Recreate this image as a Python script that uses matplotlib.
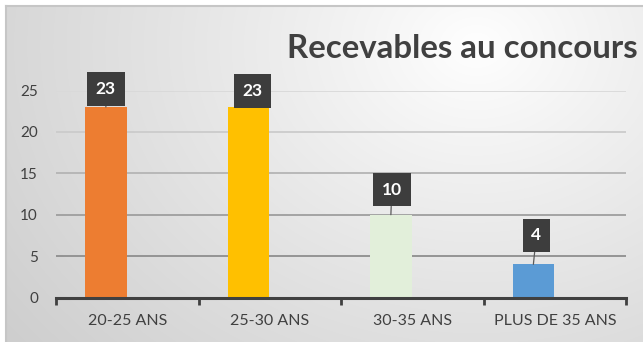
import numpy as np
import matplotlib
matplotlib.use("Agg")
import matplotlib.pyplot as plt

# --- data -------------------------------------------------------------
categories = ["20-25 ANS", "25-30 ANS", "30-35 ANS", "PLUS DE 35 ANS"]
values = [23, 23, 10, 4]
bar_colors = ["#ED7D31", "#FFC000", "#E2EFDA", "#5B9BD5"]
y_ticks = [0, 5, 10, 15, 20, 25]
title = "Recevables au concours"

# label box offsets from the bar top (pixels)
label_offsets = [(0, 18), (4, 16), (1, 25), (3, 29)]

plt.rcParams["font.family"] = ["Lato", "DejaVu Sans"]
W, H, DPI = 643, 342, 100
fig = plt.figure(figsize=(W / DPI, H / DPI), dpi=DPI, facecolor="white")

# --- chart area background with a soft radial gradient ----------------
x0, y0 = 6, 6
bg = fig.add_axes([x0 / W, 0, 1 - x0 / W, 1 - y0 / H], zorder=0)
gx, gy = np.meshgrid(np.arange(W - x0), np.arange(H - y0))
r = np.sqrt((gx - 470) ** 2 + ((gy - 40) * 1.25) ** 2) / 520
val = 1.0 - 0.17 * np.clip(r, 0, 1.2) ** 0.9
bg.imshow(np.dstack([val, val, val]), aspect="auto", interpolation="bilinear",
          extent=(0, 1, 0, 1), origin="upper")
bg.set_xlim(0, 1)
bg.set_ylim(0, 1)
bg.axis("off")
fig.add_artist(plt.Line2D([x0 / W, x0 / W], [0, 1 - y0 / H], color="#c6c6c6", lw=1.5))
fig.add_artist(plt.Line2D([x0 / W, 1], [1 - y0 / H, 1 - y0 / H], color="#c6c6c6", lw=1.5))

# --- plot area --------------------------------------------------------
left, right, base, top = 56, 626, 297.5, 90.5
ax = fig.add_axes([left / W, 1 - base / H, (right - left) / W, (base - top) / H], zorder=2)
ax.patch.set_alpha(0)

x = np.arange(len(categories))
bar_offset, bar_width = -0.15, 0.29
bars = ax.bar(x + bar_offset, values, width=bar_width, color=bar_colors, zorder=3)

ax.set_xlim(-0.5, len(categories) - 0.5)
ax.set_ylim(0, 25)
ax.set_yticks(y_ticks)
ax.set_xticks(x)
ax.set_xticklabels(categories)
ax.set_xticks(np.arange(-0.5, len(categories)), minor=True)

grid_colors = ["#404040", "#8e8e8e", "#9e9e9e", "#b4b4b4", "#cbcbcb", "#d9d9d9"]
for yv, c in zip(y_ticks[1:], grid_colors[1:]):
    ax.axhline(yv, color=c, lw=1.3, zorder=1)

for s in ["top", "right", "left"]:
    ax.spines[s].set_visible(False)
ax.spines["bottom"].set_color("#404040")
ax.spines["bottom"].set_linewidth(2.2)
ax.spines["bottom"].set_zorder(4)

ax.tick_params(axis="y", length=0, pad=13, labelsize=11, labelcolor="#404040")
ax.tick_params(axis="x", which="major", length=0, pad=12, labelsize=11.5, labelcolor="#404040")
ax.tick_params(axis="x", which="minor", length=5, width=2, color="#404040", direction="out")

# --- data labels ------------------------------------------------------
for rect, v, (dx, dy) in zip(bars, values, label_offsets):
    cx = rect.get_x() + rect.get_width() / 2
    ax.annotate(
        str(v), xy=(cx, v), xytext=(dx, dy), textcoords="offset pixels",
        ha="center", va="center", color="white", fontsize=12.5, fontweight="bold",
        bbox=dict(boxstyle="square,pad=0.5", facecolor="#3d3d3d",
                  edgecolor="none", linewidth=0),
        arrowprops=dict(arrowstyle="-", color="#5a5a5a", lw=0.9,
                        shrinkA=0, shrinkB=0),
        zorder=5, annotation_clip=False,
    )

# --- title, fitted to its span ----------------------------------------
t = fig.text(287 / W, 1 - 58 / H, title, ha="left", va="baseline",
             fontsize=20, fontweight="bold", color="#404040", zorder=6)
fig.canvas.draw()
w = t.get_window_extent().width
t.set_fontsize(20 * 351 / w)

fig.savefig("out.png", dpi=DPI, facecolor="white")
